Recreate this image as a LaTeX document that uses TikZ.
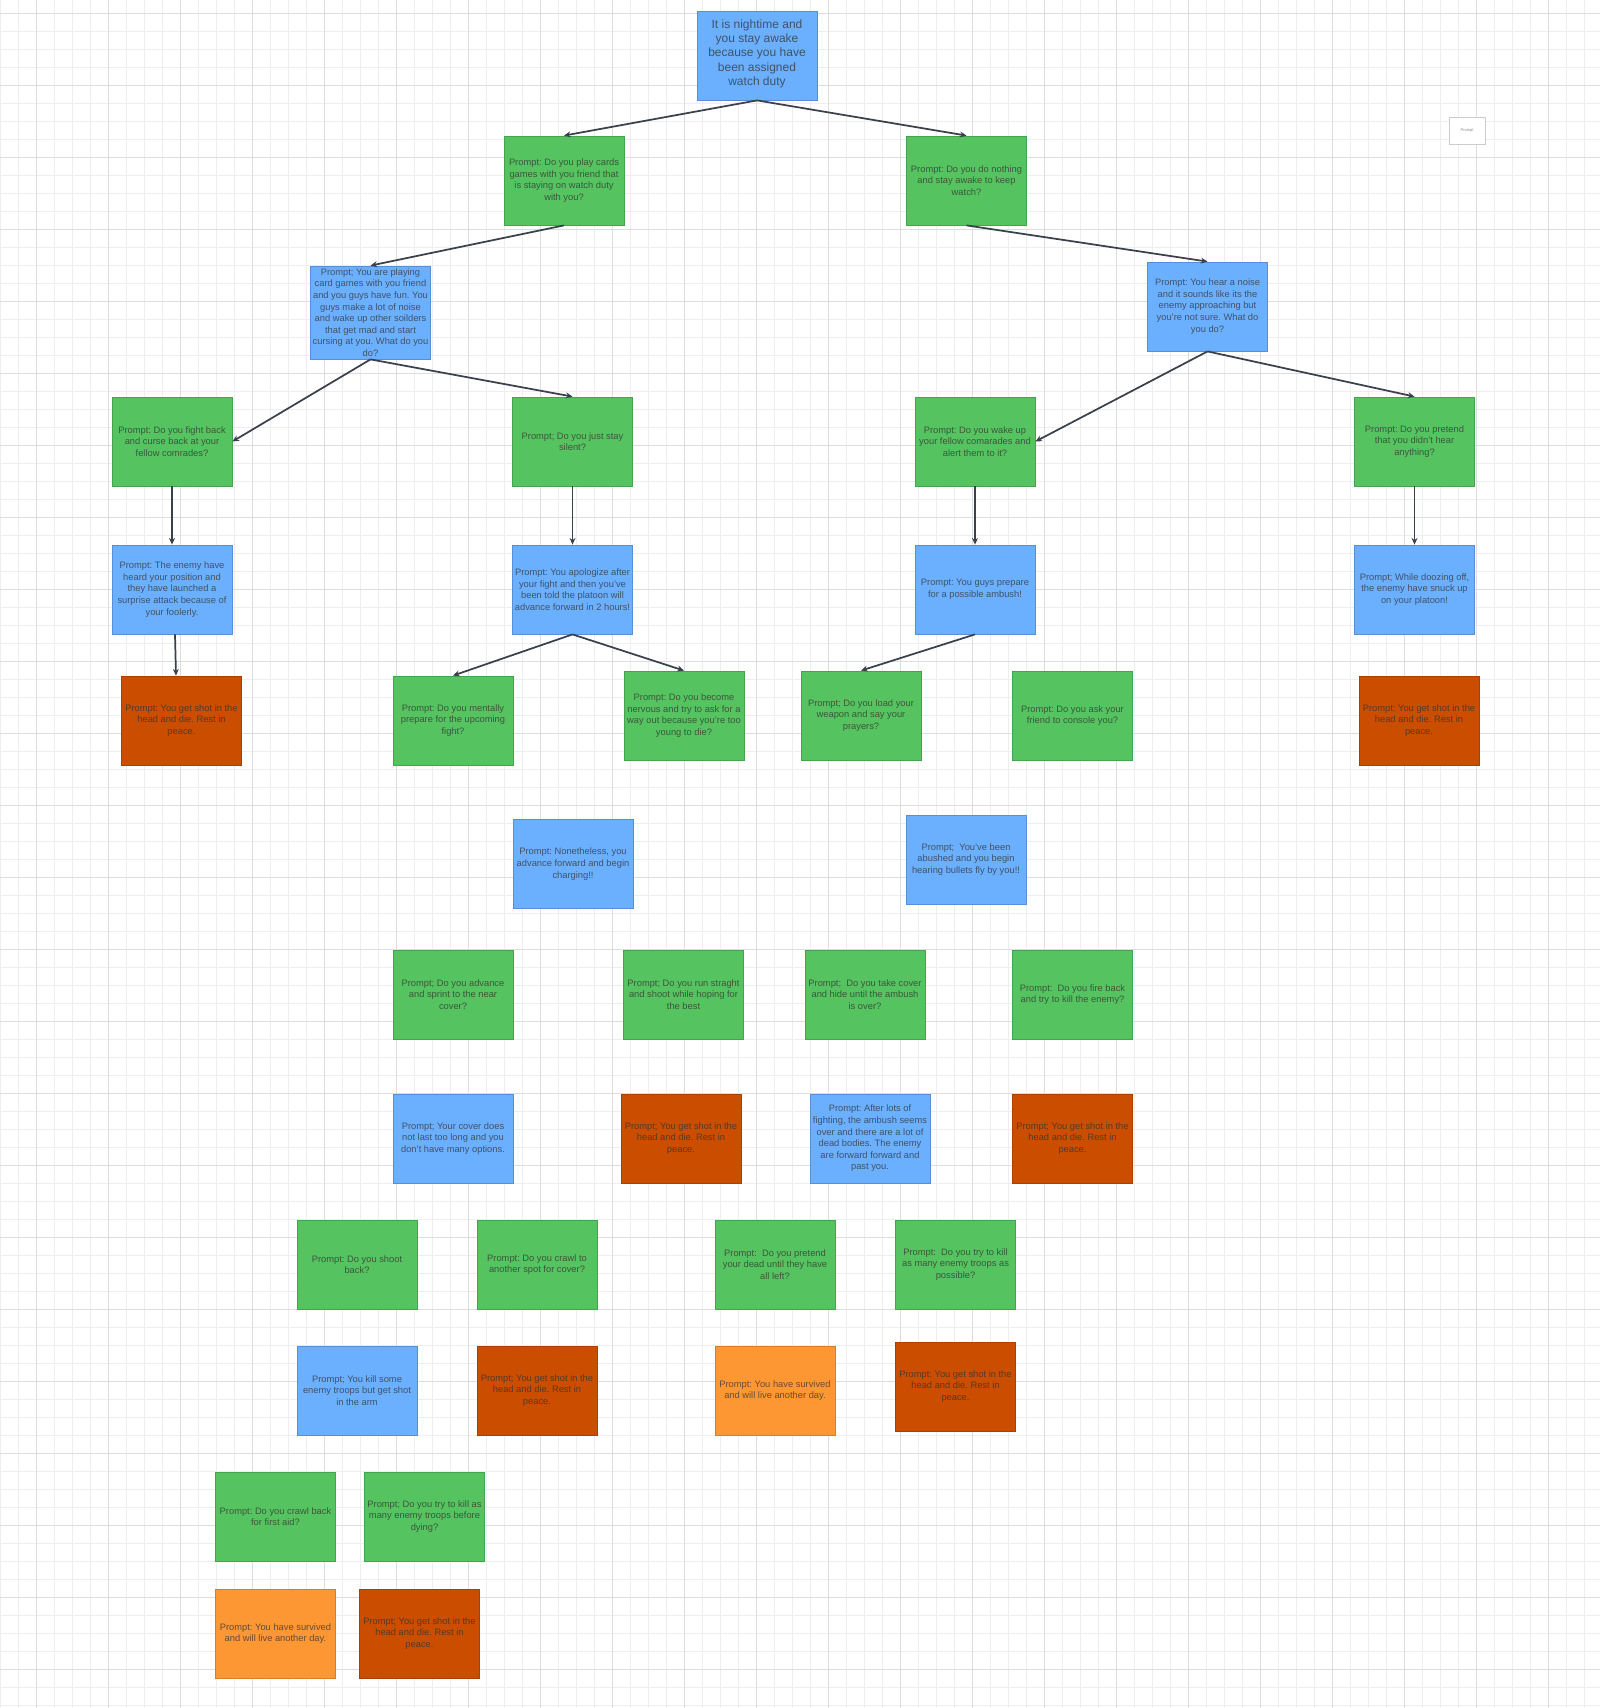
\documentclass[tikz,border=0pt]{standalone}
\usepackage{fontspec}
\setmainfont{Liberation Sans}
\usetikzlibrary{arrows.meta,calc}
\definecolor{gfill}{HTML}{55C35F}
\definecolor{gdraw}{HTML}{45A24E}
\definecolor{bfill}{HTML}{6BAFFF}
\definecolor{bdraw}{HTML}{5590D6}
\definecolor{rfill}{HTML}{CA4D00}
\definecolor{rdraw}{HTML}{A84000}
\definecolor{ofill}{HTML}{FD9733}
\definecolor{odraw}{HTML}{D87E26}
\definecolor{txt}{HTML}{333333}
\definecolor{arrc}{HTML}{3A414A}
\definecolor{mgrid}{HTML}{EEEEEE}
\definecolor{Mgrid}{HTML}{DDDDDD}
\frenchspacing
\begin{document}
\begin{tikzpicture}[x=0.75pt,y=-0.75pt,
  minorgrid/.style={draw=mgrid,line width=0.75pt},
  majorgrid/.style={draw=Mgrid,line width=0.75pt},
  box/.style={draw,line width=0.6pt,minimum width=90pt,minimum height=66.75pt,inner sep=1pt,
    align=center,font=\fontsize{7}{8.7}\selectfont\frenchspacing,text=txt,text opacity=0.75},
  gbox/.style={box,fill=gfill,draw=gdraw},
  bbox/.style={box,fill=bfill,draw=bdraw},
  rbox/.style={box,fill=rfill,draw=rdraw},
  obox/.style={box,fill=ofill,draw=odraw},
  arr/.style={draw=arrc,line width=1.3pt,-{Stealth[length=5pt,width=4.5pt]}}]
\useasboundingbox (0,0) rectangle (1600,1708);
\fill[white] (0,0) rectangle (1600,1708);
\foreach \k in {0,...,88} \draw[minorgrid] (\k*18,0) -- (\k*18,1708);
\foreach \k in {0,...,94} \draw[minorgrid] (0,13.33+\k*18) -- (1600,13.33+\k*18);
\foreach \k in {0,...,21} \draw[majorgrid] (36+\k*72,0) -- (36+\k*72,1708);
\foreach \k in {0,...,23} \draw[majorgrid] (0,13.33+\k*72) -- (1600,13.33+\k*72);

% small box top right
\node[draw=black!20,fill=white,line width=0.6pt,minimum width=27pt,minimum height=20.25pt,inner sep=0pt,
  font=\fontsize{3}{3.5}\selectfont,text=black!45] (mini) at (1467,130.5) {Prompt};

% level 0
\node[bbox,font=\fontsize{9}{10.7}\selectfont\frenchspacing] (top) at (757,55.5)
  {It is nightime and\\you stay awake\\because you have\\been assigned\\watch duty\rule[-4.5pt]{0pt}{0pt}};
% level 1
\node[gbox] (cards) at (564,180.5)
  {Prompt: Do you play cards\\games with you friend that\\is staying on watch duty\\with you?};
\node[gbox] (nothing) at (966.5,180.5)
  {Prompt: Do you do nothing\\and stay awake to keep\\watch?};
% level 2
\node[bbox,minimum height=69.75pt] (play) at (370.5,312.5)
  {Prompt; You are playing\\card games with you friend\\and you guys have fun. You\\guys make a lot of noise\\and wake up other soilders\\that get mad and start\\cursing at you. What do you\\do?};
\node[bbox] (noise) at (1207.5,306.5)
  {Prompt: You hear a noise\\and it sounds like its the\\enemy approaching but\\you're not sure. What do\\you do?};
% level 3
\node[gbox] (fight) at (172,441.5)
  {Prompt: Do you fight back\\and curse back at your\\fellow comrades?};
\node[gbox] (silent) at (572.5,441.5)
  {Prompt; Do you just stay\\silent?};
\node[gbox] (wake) at (975,441.5)
  {Prompt: Do you wake up\\your fellow comarades and\\alert them to it?};
\node[gbox] (pretend) at (1414.5,441.5)
  {Prompt: Do you pretend\\that you didn't hear\\anything?};
% level 4
\node[bbox] (enemy) at (172,589.5)
  {Prompt: The enemy have\\heard your position and\\they have launched a\\surprise attack because of\\your foolerly.};
\node[bbox] (apolog) at (572.5,589.5)
  {Prompt: You apologize after\\your fight and then you've\\been told the platoon will\\advance forward in 2 hours!};
\node[bbox] (guys) at (975,589.5)
  {Prompt: You guys prepare\\for a possible ambush!};
\node[bbox] (dozing) at (1414.5,589.5)
  {Prompt; While doozing off,\\the enemy have snuck up\\on your platoon!};
% level 5
\node[rbox] (redL) at (181.5,720.5)
  {Prompt: You get shot in the\\head and die. Rest in\\peace.};
\node[gbox] (mental) at (453,720.5)
  {Prompt: Do you mentally\\prepare for the upcoming\\fight?};
\node[gbox] (nervous) at (684,715.5)
  {Prompt: Do you become\\nervous and try to ask for a\\way out because you're too\\young to die?};
\node[gbox] (load) at (861,715.5)
  {Prompt; Do you load your\\weapon and say your\\prayers?};
\node[gbox] (ask) at (1072.5,715.5)
  {Prompt: Do you ask your\\friend to console you?};
\node[rbox] (redR) at (1419,720.5)
  {Prompt: You get shot in the\\head and die. Rest in\\peace.};
% level 6
\node[bbox] (nonethe) at (573,864)
  {Prompt: Nonetheless, you\\advance forward and begin\\charging!!};
\node[bbox] (abushed) at (966,859.5)
  {Prompt;\ \ You've been\\abushed and you begin\\hearing bullets fly by you!!};
% level 7
\node[gbox] (advance) at (453,994.5)
  {Prompt; Do you advance\\and sprint to the near\\cover?};
\node[gbox] (run) at (683.5,994.5)
  {Prompt; Do you run straght\\and shoot while hoping for\\the best};
\node[gbox] (take) at (865,994.5)
  {Prompt;\ \ Do you take cover\\and hide until the ambush\\is over?};
\node[gbox] (fire) at (1072.5,994.5)
  {Prompt:\ \ Do you fire back\\and try to kill the enemy?};
% level 8
\node[bbox] (coverdoes) at (453,1138.5)
  {Prompt; Your cover does\\not last too long and you\\don't have many options.};
\node[rbox] (redrun) at (681,1138.5)
  {Prompt; You get shot in the\\head and die. Rest in\\peace.};
\node[bbox] (after) at (870,1138.5)
  {Prompt: After lots of\\fighting, the ambush seems\\over and there are a lot of\\dead bodies. The enemy\\are forward forward and\\past you.};
\node[rbox] (redfire) at (1072.5,1138.5)
  {Prompt; You get shot in the\\head and die. Rest in\\peace.};
% level 9
\node[gbox] (shoot) at (357,1264.5)
  {Prompt: Do you shoot\\back?};
\node[gbox] (crawl) at (537,1264.5)
  {Prompt: Do you crawl to\\another spot for cover?};
\node[gbox] (pretdead) at (775,1264.5)
  {Prompt:\ \ Do you pretend\\your dead until they have\\all left?};
\node[gbox] (trykill) at (955.5,1264.5)
  {Prompt:\ \ Do you try to kill\\as many enemy troops as\\possible?};
% level 10
\node[bbox] (killsome) at (357,1390.5)
  {Prompt; You kill some\\enemy troops but get shot\\in the arm};
\node[rbox] (redcrawl) at (537,1390.5)
  {Prompt; You get shot in the\\head and die. Rest in\\peace.};
\node[obox] (survive) at (775,1390.5)
  {Prompt: You have survived\\and will live another day.};
\node[rbox] (redkill) at (955.5,1386.5)
  {Prompt: You get shot in the\\head and die. Rest in\\peace.};
% level 11
\node[gbox] (crawlback) at (275.5,1516.5)
  {Prompt: Do you crawl back\\for first aid?};
\node[gbox] (trybefore) at (424.5,1516.5)
  {Prompt; Do you try to kill as\\many enemy troops before\\dying?};
% level 12
\node[obox] (survive2) at (275.5,1633.5)
  {Prompt: You have survived\\and will live another day.};
\node[rbox] (redlast) at (419.5,1633.5)
  {Prompt; You get shot in the\\head and die. Rest in\\peace.};

% connectors
\draw[arr] (top.south) -- (cards.north);
\draw[arr] (top.south) -- (nothing.north);
\draw[arr] (cards.south) -- (play.north);
\draw[arr] (nothing.south) -- (noise.north);
\draw[arr] (play.south) -- (fight.east);
\draw[arr] (play.south) -- (silent.north);
\draw[arr] (noise.south) -- (wake.east);
\draw[arr] (noise.south) -- (pretend.north);
\draw[arr] (fight.south) -- (enemy.north);
\draw[arr] (silent.south) -- (apolog.north);
\draw[arr] (wake.south) -- (guys.north);
\draw[arr] (pretend.south) -- (dozing.north);
\coordinate (e1) at ($(enemy.south)+(3,0)$);
\coordinate (e2) at ($(enemy.south)+(4,0)$);
\draw[arr] (e1) -- (e2 |- redL.north);
\draw[arr] (apolog.south) -- (mental.north);
\draw[arr] (apolog.south) -- (nervous.north);
\draw[arr] (guys.south) -- (load.north);
\end{tikzpicture}
\end{document}
